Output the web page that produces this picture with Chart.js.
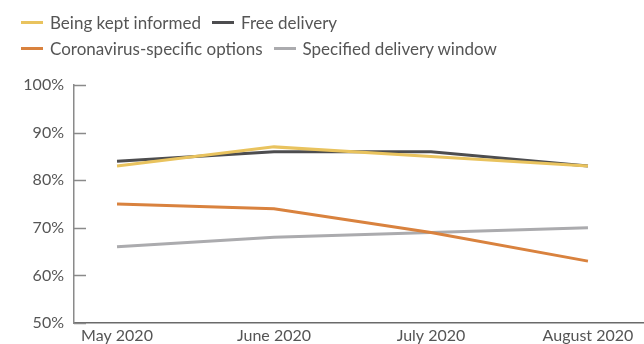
<!DOCTYPE html>
<html>
<head>
<meta charset="utf-8">
<script src="https://cdn.jsdelivr.net/npm/chart.js@4/dist/chart.umd.min.js"></script>
<style>
  html, body { margin: 0; padding: 0; background: #fff; }
  #wrap { position: relative; width: 644px; height: 344px; overflow: hidden; }
  #chart { position: absolute; left: 0; top: 0; }
  .legend { position: absolute; left: 21px; font-family: Lato, "Open Sans", sans-serif; font-size: 17px; line-height: 20px; color: #555; white-space: nowrap; }
  .legend span.item { display: inline-flex; align-items: center; margin-right: 11px; }
  .legend i { display: inline-block; width: 22px; height: 3px; margin-right: 7px; }
</style>
</head>
<body>
<div id="wrap">
  <canvas id="chart" width="644" height="344"></canvas>
  <div class="legend" id="row1" style="top:8px"></div>
  <div class="legend" id="row2" style="top:34px"></div>
</div>
<script>
const months = ['May 2020', 'June 2020', 'July 2020', 'August 2020'];
const keptInformed = [83, 87, 85, 83];
const freeDelivery = [84, 86, 86, 83];
const coronavirusOptions = [75, 74, 69, 63];
const deliveryWindow = [66, 68, 69, 70];
const yTicks = [50, 60, 70, 80, 90, 100];

const series = [
  { label: 'Being kept informed', data: keptInformed, color: '#E9C35E' },
  { label: 'Free delivery', data: freeDelivery, color: '#4D4D4F' },
  { label: 'Coronavirus-specific options', data: coronavirusOptions, color: '#D9823E' },
  { label: 'Specified delivery window', data: deliveryWindow, color: '#ABABAE' }
];

// legend rows
function addItem(rowId, s) {
  const el = document.createElement('span');
  el.className = 'item';
  el.innerHTML = '<i style="background:' + s.color + '"></i>' + s.label;
  document.getElementById(rowId).appendChild(el);
}
addItem('row1', series[0]); addItem('row1', series[1]);
addItem('row2', series[2]); addItem('row2', series[3]);

// short inward tick marks on the y axis
const innerTicks = {
  id: 'innerTicks',
  afterDraw(chart) {
    const y = chart.scales.y;
    const ctx = chart.ctx;
    ctx.save();
    ctx.strokeStyle = '#8a8a8a';
    ctx.lineWidth = 1.5;
    yTicks.forEach(v => {
      const py = Math.round(y.getPixelForValue(v)) + 0.5;
      ctx.beginPath();
      ctx.moveTo(y.right, py);
      ctx.lineTo(y.right + 12, py);
      ctx.stroke();
    });
    ctx.restore();
  }
};

const tickFont = { family: 'Lato, "Open Sans", sans-serif', size: 16 };

new Chart(document.getElementById('chart'), {
  type: 'line',
  data: {
    datasets: series.map(s => ({
      label: s.label,
      data: s.data.map((v, i) => ({ x: i, y: v })),
      borderColor: s.color,
      backgroundColor: s.color,
      borderWidth: 3,
      pointRadius: 0,
      tension: 0
    }))
  },
  options: {
    responsive: false,
    animation: false,
    layout: { padding: { top: 85, right: 0, left: 0, bottom: 0 } },
    plugins: { legend: { display: false }, tooltip: { enabled: false } },
    scales: {
      x: {
        type: 'linear',
        min: -0.274,
        max: 3.357,
        afterBuildTicks(scale) { scale.ticks = months.map((m, i) => ({ value: i })); },
        afterFit(scale) { scale.height = 21; },
        grid: { display: false, drawTicks: false },
        border: { display: true, color: '#6a6a6a', width: 1.5 },
        ticks: {
          callback: v => months[v],
          autoSkip: false, maxRotation: 0, padding: 3,
          color: '#555', font: tickFont
        }
      },
      y: {
        min: 50, max: 100,
        afterBuildTicks(scale) { scale.ticks = yTicks.map(v => ({ value: v })); },
        afterFit(scale) { scale.width = 74; },
        grid: { display: false, drawTicks: false },
        border: { display: true, color: '#8a8a8a', width: 1.5 },
        ticks: {
          callback: v => v + '%',
          padding: 10,
          color: '#555', font: tickFont
        }
      }
    }
  },
  plugins: [innerTicks]
});
</script>
</body>
</html>
